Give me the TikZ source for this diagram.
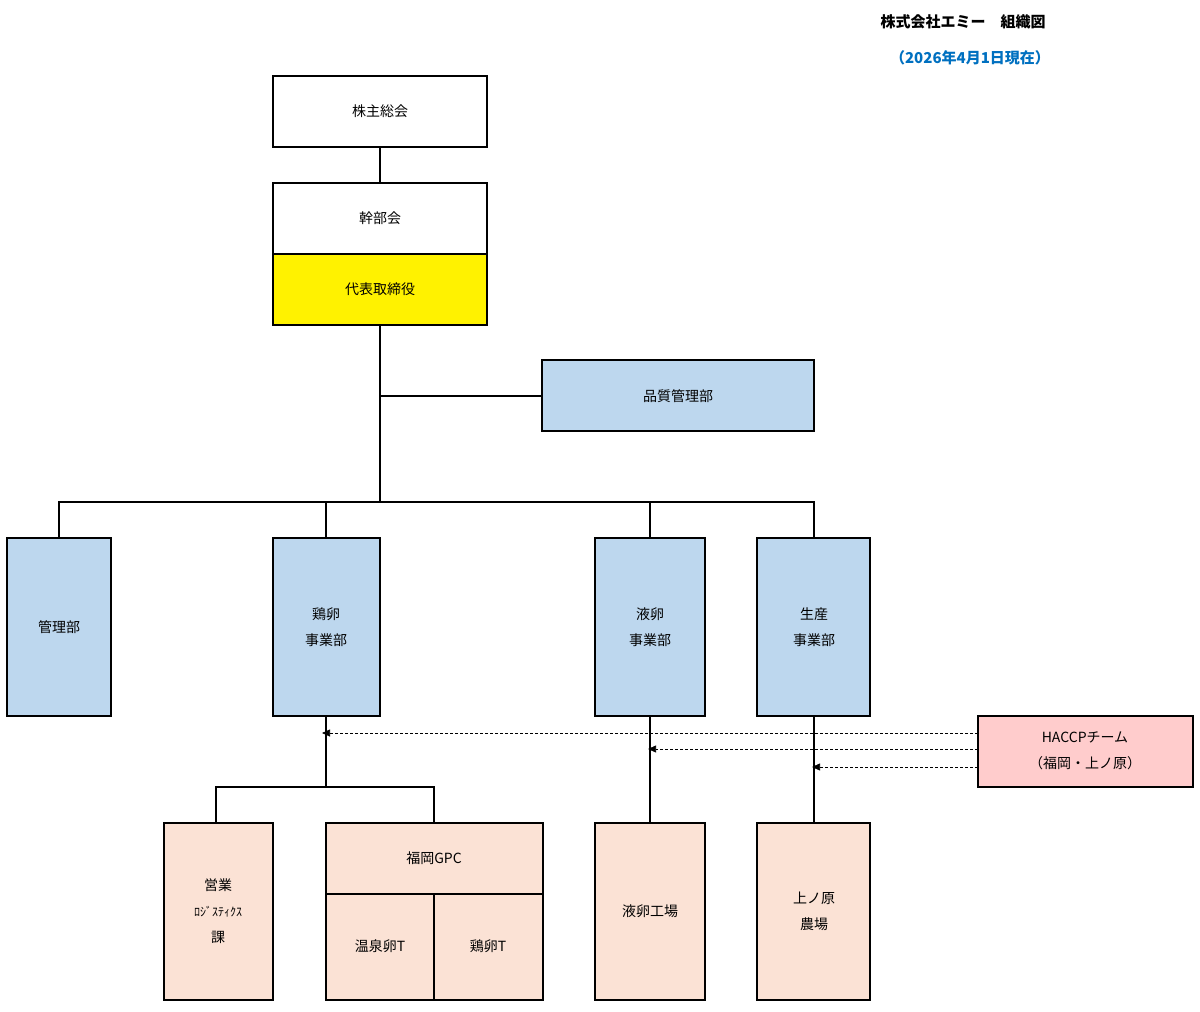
\documentclass[tikz,border=0pt]{standalone}
\usepackage{fontspec}
\setmainfont{Noto Sans CJK JP}
\usetikzlibrary{arrows.meta}
\definecolor{blu}{HTML}{BDD7EE}
\definecolor{peach}{HTML}{FBE2D5}
\definecolor{pinkb}{HTML}{FFCCCC}
\definecolor{ttl}{HTML}{0070C0}
\begin{document}
\begin{tikzpicture}[x=1pt,y=-1pt,
 box/.style={draw=black,line width=1.2pt},
 lbl/.style={font=\fontsize{14}{26}\selectfont,align=center},
 ln/.style={line width=1.2pt},
 da/.style={densely dashed,line width=0.6pt,-{Triangle[length=8pt,width=7pt]}}]
\useasboundingbox (0,0) rectangle (1200,1012);
\node[font=\fontsize{15}{18}\selectfont\bfseries] (t1) at (963,22) {株式会社エミー\quad 組織図};
\node[font=\fontsize{15}{18}\selectfont\bfseries,text=ttl] (t2) at (970,58) {（2026年4月1日現在）};
% boxes
\draw[box,fill=white] (273,76) rectangle (487,147); \node[lbl] (kab) at (380,111) {株主総会};
\draw[box,fill=white] (273,183) rectangle (487,254); \node[lbl] (kan) at (380,218) {幹部会};
\draw[box,fill=yellow] (273,254) rectangle (487,325); \node[lbl] (dai) at (380,289) {代表取締役};
\draw[box,fill=blu] (542,360) rectangle (814,431); \node[lbl] (hin) at (678,396) {品質管理部};
\draw[box,fill=blu] (7,538) rectangle (111,716); \node[lbl] (kanri) at (59,627) {管理部};
\draw[box,fill=blu] (273,538) rectangle (380,716); \node[lbl] (kei) at (326,627) {鶏卵\\事業部};
\draw[box,fill=blu] (595,538) rectangle (705,716); \node[lbl] (eki) at (650,627) {液卵\\事業部};
\draw[box,fill=blu] (757,538) rectangle (870,716); \node[lbl] (sei) at (814,627) {生産\\事業部};
\draw[box,fill=pinkb] (978,716) rectangle (1193,787); \node[lbl] (hac) at (1085,751) {HACCPチーム\\（福岡・上ノ原）};
\draw[box,fill=peach] (164,823) rectangle (273,1000);
\node[font=\fontsize{14}{26}\selectfont,align=center] (eig) at (218,911) {営業\\{\fontsize{12}{26}\selectfont ﾛｼﾞｽﾃｨｸｽ}\\課};
\draw[box,fill=peach] (326,823) rectangle (543,894); \node[lbl] (gpc) at (434,858) {福岡GPC};
\draw[box,fill=peach] (326,894) rectangle (434,1000); \node[lbl] (onsen) at (380,946) {温泉卵T};
\draw[box,fill=peach] (434,894) rectangle (543,1000); \node[lbl] (keit) at (488,946) {鶏卵T};
\draw[box,fill=peach] (595,823) rectangle (705,1000); \node[lbl] (ekk) at (650,911) {液卵工場};
\draw[box,fill=peach] (757,823) rectangle (870,1000); \node[lbl] (ueno) at (814,911) {上ノ原\\農場};
% connectors
\draw[ln] (380,147) -- (380,183);
\draw[ln] (380,325) -- (380,502);
\draw[ln] (380,396) -- (542,396);
\draw[ln] (59,538) -- (59,502) -- (814,502) -- (814,538);
\draw[ln] (326,502) -- (326,538);
\draw[ln] (650,502) -- (650,538);
\draw[ln] (326,716) -- (326,787);
\draw[ln] (216,823) -- (216,787) -- (434,787) -- (434,823);
\draw[ln] (650,716) -- (650,823);
\draw[ln] (814,716) -- (814,823);
\draw[da] (978,733) -- (322,733);
\draw[da] (978,749) -- (648,749);
\draw[da] (978,767) -- (812,767);
\end{tikzpicture}
\end{document}
